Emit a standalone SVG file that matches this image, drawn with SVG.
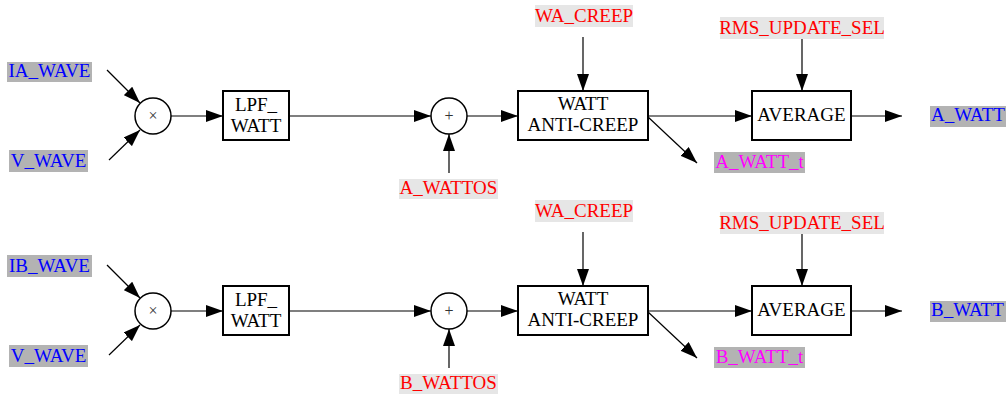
<svg xmlns="http://www.w3.org/2000/svg" width="1006" height="395" viewBox="0 0 1006 395">
<style>
text{font-family:"Liberation Serif","Times New Roman",serif;font-size:19px;}
.box{fill:#fff;stroke:#000;stroke-width:2;}
.circ{fill:#fff;stroke:#000;stroke-width:1.5;}
.bt{fill:#000;text-anchor:middle;}
.sym{fill:#333;text-anchor:middle;font-size:16px;}
.bgd{fill:#b3b3b3;}
.bgl{fill:#e6e6e6;}
.blue{fill:#0000ff;}
.red{fill:#ff0000;}
.mag{fill:#ff00ff;}
.mid{text-anchor:middle;}
.ln{stroke:#000;stroke-width:1.2;fill:none;marker-end:url(#ah);}
</style>
<defs>
<marker id="ah" markerUnits="userSpaceOnUse" markerWidth="17" markerHeight="12" refX="17" refY="6" orient="auto">
<path d="M0,0 L17,6 L0,12 z" fill="#000"/>
</marker>
</defs>
<rect width="1006" height="395" fill="#fff"/>

<!-- Row A -->
<g id="connectorsA">
<line class="ln" x1="107" y1="70" x2="140" y2="103"/>
<line class="ln" x1="109" y1="160" x2="140" y2="130"/>
<line class="ln" x1="171" y1="116" x2="223" y2="116"/>
<line class="ln" x1="289" y1="116" x2="431" y2="116"/>
<line class="ln" x1="449" y1="173" x2="449" y2="134"/>
<line class="ln" x1="467" y1="116" x2="518" y2="116"/>
<line class="ln" x1="583" y1="37" x2="583" y2="91"/>
<line class="ln" x1="648" y1="116" x2="752" y2="116"/>
<line class="ln" x1="647" y1="116" x2="697" y2="163"/>
<line class="ln" x1="802" y1="39" x2="802" y2="91"/>
<line class="ln" x1="851" y1="116" x2="902" y2="116"/>
</g>
<g id="IA_WAVE"><rect class="bgd" x="7" y="62" width="85" height="20"/><text class="blue mid" x="49.5" y="77">IA_WAVE</text></g>
<g id="V_WAVE_A"><rect class="bgd" x="9" y="150" width="79" height="22"/><text class="blue mid" x="48.5" y="167">V_WAVE</text></g>
<g id="MUL_A"><circle class="circ" cx="153" cy="116" r="18"/><text class="sym" x="153" y="121">×</text></g>
<g id="LPF_A"><rect class="box" x="223" y="91" width="66" height="49"/><text class="bt" x="256" y="111">LPF_</text><text class="bt" x="256" y="132">WATT</text></g>
<g id="ADD_A"><circle class="circ" cx="449" cy="116" r="18"/><text class="sym" x="449" y="121">+</text></g>
<g id="A_WATTOS"><rect class="bgl" x="399" y="179" width="99" height="20"/><text class="red mid" x="448.5" y="194">A_WATTOS</text></g>
<g id="WA_CREEP_A"><rect class="bgl" x="535" y="5" width="98" height="22"/><text class="red mid" x="584" y="22">WA_CREEP</text></g>
<g id="ANTI_A"><rect class="box" x="518" y="91" width="130" height="49"/><text class="bt" x="583" y="110">WATT</text><text class="bt" x="583" y="131">ANTI-CREEP</text></g>
<g id="A_WATT_t"><rect class="bgd" x="714" y="152" width="91" height="21"/><text class="mag mid" x="759.5" y="168">A_WATT_t</text></g>
<g id="RMS_A"><rect class="bgl" x="720" y="17" width="164" height="22"/><text class="red mid" x="802" y="34">RMS_UPDATE_SEL</text></g>
<g id="AVG_A"><rect class="box" x="752" y="91" width="99" height="49"/><text class="bt" x="801.5" y="121">AVERAGE</text></g>
<g id="A_WATT"><rect class="bgd" x="930" y="106" width="76" height="21"/><text class="blue" x="931" y="121">A_WATT</text></g>

<!-- Row B -->
<g id="connectorsB">
<line class="ln" x1="107" y1="265" x2="140" y2="298"/>
<line class="ln" x1="109" y1="355" x2="140" y2="325"/>
<line class="ln" x1="171" y1="311" x2="223" y2="311"/>
<line class="ln" x1="289" y1="311" x2="431" y2="311"/>
<line class="ln" x1="449" y1="368" x2="449" y2="329"/>
<line class="ln" x1="467" y1="311" x2="518" y2="311"/>
<line class="ln" x1="583" y1="232" x2="583" y2="286"/>
<line class="ln" x1="648" y1="311" x2="752" y2="311"/>
<line class="ln" x1="647" y1="311" x2="697" y2="358"/>
<line class="ln" x1="802" y1="234" x2="802" y2="286"/>
<line class="ln" x1="851" y1="311" x2="902" y2="311"/>
</g>
<g id="IB_WAVE"><rect class="bgd" x="7" y="255" width="85" height="22"/><text class="blue mid" x="49.5" y="272">IB_WAVE</text></g>
<g id="V_WAVE_B"><rect class="bgd" x="9" y="345" width="79" height="22"/><text class="blue mid" x="48.5" y="362">V_WAVE</text></g>
<g id="MUL_B"><circle class="circ" cx="153" cy="311" r="18"/><text class="sym" x="153" y="316">×</text></g>
<g id="LPF_B"><rect class="box" x="223" y="286" width="66" height="49"/><text class="bt" x="256" y="306">LPF_</text><text class="bt" x="256" y="327">WATT</text></g>
<g id="ADD_B"><circle class="circ" cx="449" cy="311" r="18"/><text class="sym" x="449" y="316">+</text></g>
<g id="B_WATTOS"><rect class="bgl" x="399" y="374" width="99" height="20"/><text class="red mid" x="448.5" y="389">B_WATTOS</text></g>
<g id="WA_CREEP_B"><rect class="bgl" x="535" y="200" width="98" height="22"/><text class="red mid" x="584" y="217">WA_CREEP</text></g>
<g id="ANTI_B"><rect class="box" x="518" y="286" width="130" height="49"/><text class="bt" x="583" y="305">WATT</text><text class="bt" x="583" y="326">ANTI-CREEP</text></g>
<g id="B_WATT_t"><rect class="bgd" x="714" y="347" width="91" height="21"/><text class="mag mid" x="759.5" y="363">B_WATT_t</text></g>
<g id="RMS_B"><rect class="bgl" x="720" y="212" width="164" height="22"/><text class="red mid" x="802" y="229">RMS_UPDATE_SEL</text></g>
<g id="AVG_B"><rect class="box" x="752" y="286" width="99" height="49"/><text class="bt" x="801.5" y="316">AVERAGE</text></g>
<g id="B_WATT"><rect class="bgd" x="930" y="301" width="76" height="21"/><text class="blue" x="931" y="316">B_WATT</text></g>
</svg>
